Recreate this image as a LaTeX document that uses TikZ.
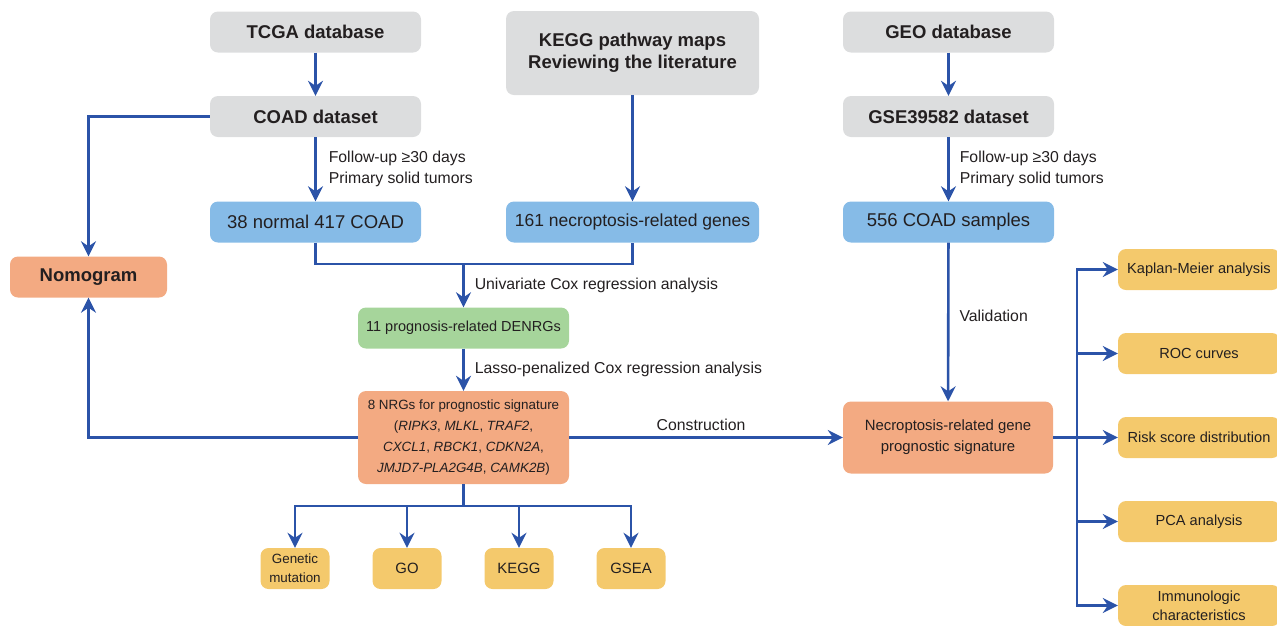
\documentclass[tikz,border=0pt]{standalone}
\usepackage{fontspec}
\setmainfont{Liberation Sans}
\usepackage{tikz}
\definecolor{gris}{HTML}{DCDDDE}
\definecolor{bleu}{HTML}{86BBE7}
\definecolor{saumon}{HTML}{F3AA82}
\definecolor{vert}{HTML}{A6D59B}
\definecolor{jaune}{HTML}{F4C96C}
\definecolor{fleche}{HTML}{2B53A8}
\definecolor{texte}{HTML}{231F20}
\usetikzlibrary{arrows.meta,calc}
\tikzset{boite/.style={
    rounded corners=8pt,
    inner sep=0pt,
    align=center,
    text=texte},
  gras/.style={boite,
    fill=gris,
    font=\fontsize{18.5}{22}\selectfont\bfseries,
    minimum width=211pt,
    minimum height=41pt},
  lien/.style={
    draw=fleche,
    line width=2.6pt},
  fl/.style={lien,
    -{Stealth[length=15pt,width=15pt,inset=5pt]}},
  lbl/.style={
    text=texte,
    inner sep=0pt,
    align=left,
    font=\fontsize{15.8}{21}\selectfont}}

\begin{document}
\begin{tikzpicture}[x=1pt,y=-1pt]

\useasboundingbox (0,0) rectangle (1277,625);

\node[gras] (tcga) at (315.5,32) {TCGA database};
\node[gras] (coad) at (315.5,116.5) {COAD dataset};
\node[gras,
  minimum width=253pt,
  minimum height=84pt] (kegg) at (632.5,53) {KEGG pathway maps\\Reviewing the literature};
\node[gras] (geo) at (948.5,32) {GEO database};
\node[gras] (gse) at (948.5,116.5) {GSE39582 dataset};

\node[boite,
  fill=bleu,
  font=\fontsize{18.5}{22}\selectfont,
  minimum width=211pt,
  minimum height=41pt] (normal) at (315.5,222) {38 normal 417 COAD};
\node[boite,
  fill=bleu,
  font=\fontsize{17.5}{22}\selectfont,
  minimum width=253pt,
  minimum height=41pt] (genes) at (632.5,222) {161 necroptosis-related genes};
\node[boite,
  fill=bleu,
  font=\fontsize{18.5}{22}\selectfont,
  minimum width=211pt,
  minimum height=41pt] (samples) at (948.5,222) {556 COAD samples};

\node[boite,
  fill=saumon,
  font=\fontsize{18.5}{22}\selectfont\bfseries,
  minimum width=157pt,
  minimum height=41pt] (nomo) at (88.5,277) {Nomogram};

\node[boite,
  fill=vert,
  font=\fontsize{14.5}{18}\selectfont,
  minimum width=211pt,
  minimum height=41pt] (prog) at (463.5,328) {11 prognosis-related DENRGs};

\node[boite,
  fill=saumon,
  font=\fontsize{13.4}{21.2}\selectfont,
  minimum width=211pt,
  minimum height=93pt] (nrg) at (463.5,437.5) {8 NRGs for prognostic signature\\
  (\textit{RIPK3}, \textit{MLKL}, \textit{TRAF2},\\
  \textit{CXCL1}, \textit{RBCK1}, \textit{CDKN2A},\\
  \textit{JMJD7-PLA2G4B}, \textit{CAMK2B})};

\node[boite,
  fill=saumon,
  font=\fontsize{14.9}{21}\selectfont,
  minimum width=210pt,
  minimum height=72pt] (sig) at (948,437.5) {Necroptosis-related gene\\prognostic signature};

\node[boite,
  fill=jaune,
  font=\fontsize{13.4}{19}\selectfont,
  minimum width=69pt,
  minimum height=41pt] (gen) at (295,568.5) {Genetic\\mutation};
\foreach \nom/\x/\txt in {go/407/GO, keggb/519/KEGG, gsea/631/GSEA}
  \node[boite,
    fill=jaune,
    font=\fontsize{14.9}{19}\selectfont,
    minimum width=69pt,
    minimum height=41pt] (\nom) at (\x,568.5) {\txt};

\foreach \nom/\y/\txt in {km/269.5/Kaplan-Meier analysis, roc/353.5/ROC curves, risk/437.5/Risk score distribution, pca/521.5/PCA analysis, immu/605.5/Immunologic\\characteristics}
  \node[boite,
    fill=jaune,
    font=\fontsize{14.6}{19}\selectfont,
    minimum width=162pt,
    minimum height=41pt] (\nom) at (1199,\y) {\txt};

\draw[fl] (tcga) -- (coad);
\draw[fl] (geo) -- (gse);
\draw[fl] (kegg) -- (genes);
\draw[fl] (coad) -- node[lbl,anchor=west,xshift=12pt] {Follow-up ≥30 days\\Primary solid tumors} (normal);
\draw[fl] (gse) -- node[lbl,anchor=west,xshift=10pt] {Follow-up ≥30 days\\Primary solid tumors} (samples);

\draw[fl] (coad.west) -| (nomo.north);
\draw[fl] (nrg.west) -| (nomo.south);

\coordinate (merge) at (463.5,264);
\draw[lien] (normal.south) |- (merge) -| (genes.south);
\draw[fl] (merge) -- node[lbl,anchor=west,xshift=10pt] {Univariate Cox regression analysis} (prog);
\draw[fl] (prog) -- node[lbl,anchor=west,xshift=10pt] {Lasso-penalized Cox regression analysis} (nrg);

\draw[fl] (nrg.east) -- node[lbl,above=6pt,xshift=-5pt] {Construction} (sig.west);
\draw[fl] (samples) -- node[lbl,anchor=west,xshift=10pt,yshift=6pt] {Validation} (sig);

\coordinate (split) at (463.5,506);
\draw[lien] (nrg.south) -- (split);
\foreach \nom in {gen,go,keggb,gsea}
  \draw[fl] (split) -| (\nom.north);

\coordinate (fan) at (1077,437.5);
\draw[lien] (sig.east) -- (fan);
\foreach \nom in {km,roc,risk,pca,immu}
  \draw[fl] (fan) |- (\nom.west);

\end{tikzpicture}
\end{document}
